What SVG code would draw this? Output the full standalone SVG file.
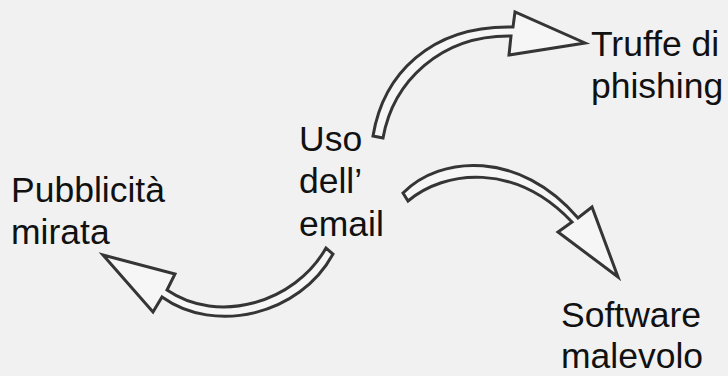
<svg xmlns="http://www.w3.org/2000/svg" width="728" height="376" viewBox="0 0 728 376">
<style>
.bg{fill:#f1f1f1}
.arr{fill:#f6f6f6;stroke:#353535;stroke-width:3;stroke-linejoin:miter}
.lbl{font-family:"Liberation Sans",Arial,sans-serif;font-size:35.5px;fill:#111}
</style>
<rect class="bg" x="0" y="0" width="728" height="376"/>
<g id="connectors">
<path class="arr" d="M373,136 C383,75 430,25 513,27 L515,12 L585,43 L509,55 L511,36 C440,35 393,82 383,138 Z"/>
<path class="arr" d="M403,193 C440,155 520,150 578,218 L592,207 L618,277 L558,232 L572,222 C515,162 445,170 408,201 Z"/>
<path class="arr" d="M333,254 C300,315 215,335 162,297 L153,312 L103,255 L175,274 L167,290 C218,325 295,303 326,248 Z"/>
</g>
<g id="center"><text class="lbl" x="299" y="151">Uso</text><text class="lbl" x="299" y="193">dell’</text><text class="lbl" x="299" y="236">email</text></g>
<g id="phishing"><text class="lbl" x="591" y="56">Truffe di</text><text class="lbl" x="591" y="98">phishing</text></g>
<g id="ads"><text class="lbl" x="11" y="202">Pubblicità</text><text class="lbl" x="11" y="244">mirata</text></g>
<g id="malware"><text class="lbl" x="561" y="327">Software</text><text class="lbl" x="561" y="368">malevolo</text></g>
</svg>
